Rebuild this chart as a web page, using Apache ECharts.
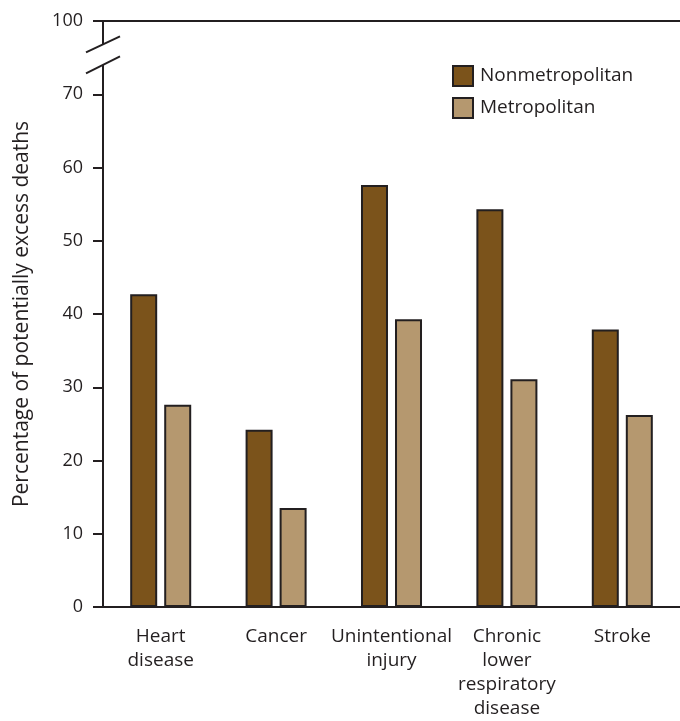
<!DOCTYPE html>
<html><head><meta charset="utf-8">
<script src="https://cdn.jsdelivr.net/npm/echarts@6/dist/echarts.min.js"></script>
<style>html,body{margin:0;padding:0;background:#fff}#c{width:680px;height:721px}</style>
</head><body><div id="c"></div>
<script>
const categories = ['Heart\ndisease', 'Cancer', 'Unintentional\ninjury', 'Chronic\nlower\nrespiratory\ndisease', 'Stroke'];
const nonmetropolitan = [42.7, 24.2, 57.6, 54.3, 37.9];
const metropolitan = [27.6, 13.5, 39.3, 31.1, 26.2];
const yTickLabels = {0:'0',10:'10',20:'20',30:'30',40:'40',50:'50',60:'60',70:'70',80:'100'};

const FONT = 'Open Sans';
const INK = '#231f20';
const chart = echarts.init(document.getElementById('c'), null, {renderer:'canvas'});
chart.setOption({
  animation: false,
  textStyle: {fontFamily: FONT, color: INK},
  legend: {
    orient: 'vertical', left: 447, top: 60, itemWidth: 20, itemHeight: 20, itemGap: 10,
    icon: 'rect',
    textStyle: {fontSize: 19, color: INK, fontFamily: FONT, padding: [0, 0, 0, 2]},
    data: ['Nonmetropolitan', 'Metropolitan']
  },
  grid: {left: 103, right: 0, top: 21, bottom: 111, containLabel: false},
  xAxis: [{
    type: 'category', data: categories, position: 'bottom',
    axisLine: {lineStyle: {color: INK, width: 2}},
    axisTick: {alignWithLabel: true, length: 8, lineStyle: {color: INK, width: 2}},
    axisLabel: {fontSize: 19, color: INK, margin: 18, lineHeight: 24, fontFamily: FONT,
      interval: 0, hideOverlap: false}
  }, {
    type: 'category', data: categories, position: 'top',
    axisLine: {lineStyle: {color: INK, width: 2}},
    axisTick: {show: false}, axisLabel: {show: false}
  }],
  yAxis: {
    type: 'value', min: 0, max: 80, interval: 10,
    name: 'Percentage of potentially excess deaths', nameLocation: 'middle', nameGap: 70,
    nameTextStyle: {fontSize: 21, color: INK, fontFamily: FONT},
    axisLine: {show: true, lineStyle: {color: INK, width: 2}},
    axisTick: {show: true, length: 10, lineStyle: {color: INK, width: 2}},
    axisLabel: {fontSize: 18, color: INK, margin: 20, fontFamily: FONT,
      formatter: v => yTickLabels[v] !== undefined ? yTickLabels[v] : ''},
    splitLine: {show: false}
  },
  series: [{
    name: 'Nonmetropolitan', type: 'bar', data: nonmetropolitan, barWidth: 27, barGap: '26%',
    itemStyle: {color: '#7b531b', borderColor: INK, borderWidth: 2}
  }, {
    name: 'Metropolitan', type: 'bar', data: metropolitan, barWidth: 27,
    itemStyle: {color: '#b5986f', borderColor: INK, borderWidth: 2}
  }]
});

// axis break decoration
const gx = chart.getModel().getComponent('grid', 0).coordinateSystem.getRect().x;
const yHi = chart.convertToPixel({yAxisIndex: 0}, 76.8);
const yLo = chart.convertToPixel({yAxisIndex: 0}, 74.0);
chart.setOption({
  graphic: [
    {type: 'rect', shape: {x: gx - 3, y: yHi, width: 6, height: yLo - yHi}, style: {fill: '#fff'}, z: 100},
    {type: 'line', shape: {x1: gx - 17, y1: yHi + 8, x2: gx + 17, y2: yHi - 8}, style: {stroke: INK, lineWidth: 2}, z: 101},
    {type: 'line', shape: {x1: gx - 17, y1: yLo + 8.5, x2: gx + 17, y2: yLo - 8.5}, style: {stroke: INK, lineWidth: 2}, z: 101}
  ]
});
</script></body></html>
